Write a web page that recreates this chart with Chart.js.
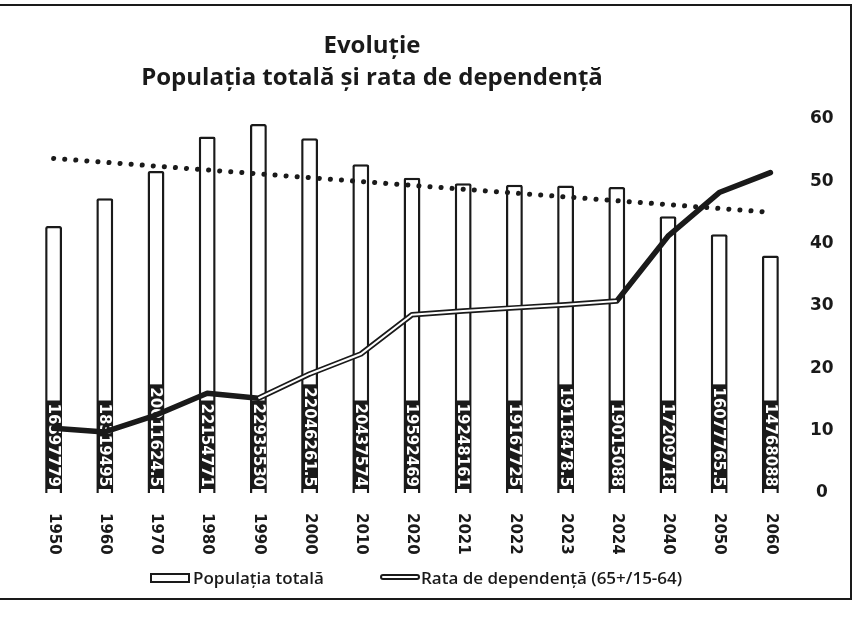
<!DOCTYPE html>
<html>
<head>
<meta charset="utf-8">
<script src="https://cdn.jsdelivr.net/npm/chart.js@4.4.1/dist/chart.umd.min.js"></script>
<style>
  html, body { margin: 0; padding: 0; background: #fff; }
  #wrap { position: relative; width: 859px; height: 619px; overflow: hidden; }
  #chart { position: absolute; left: 0; top: 0; }
  #frame {
    position: absolute; left: -3px; top: 4px; width: 853px; height: 592px;
    border: 2px solid #1a1a1a; border-left: none; pointer-events: none;
  }
  #title {
    position: absolute; left: 0; top: 28px; width: 744px; text-align: center;
    font: bold 24px "Open Sans", sans-serif; line-height: 32px; color: #1a1a1a;
  }
  .leg { position: absolute; top: 566px; font: 600 17px "Open Sans", sans-serif; color: #1a1a1a; white-space: nowrap; }
  .sw { position: absolute; box-sizing: border-box; }
  #sw-bar { left: 150px; top: 573px; width: 40px; height: 10px; border: 2px solid #1a1a1a; background: #fff; }
  #sw-line { left: 380px; top: 574px; width: 40px; height: 6px; border: 2px solid #1a1a1a; background: #fff; border-radius: 3px; }
</style>
</head>
<body>
<div id="wrap">
  <canvas id="chart" width="859" height="619"></canvas>
  <div id="frame"></div>
  <div id="title">Evoluție<br>Populația totală și rata de dependență</div>
  <div class="sw" id="sw-bar"></div>
  <div class="leg" style="left:193px">Populația totală</div>
  <div class="sw" id="sw-line"></div>
  <div class="leg" style="left:421px">Rata de dependență (65+/15-64)</div>
</div>
<script>
// =======================
// Data
// =======================

const years = ["1950", "1960", "1970", "1980", "1990", "2000", "2010", "2020",
               "2021", "2022", "2023", "2024", "2040", "2050", "2060"];

const population = [16597779, 18319495, 20011624.5, 22154771, 22935530, 22046261.5,
                    20437574, 19592469, 19248161, 19167725, 19118478.5, 19015088,
                    17209718, 16077765.5, 14768088];

const dependencyRatio = [10.4, 9.8, 12.5, 16.0, 15.2, 19.1, 22.3, 28.6,
                         29.2, 29.7, 30.2, 30.8, 41.2, 48.2, 51.4];

// dotted linear trend of the population, first and last point only
const populationTrend = [20800000, null, null, null, null, null, null, null,
                         null, null, null, null, null, null, 17450000];

const ratioTicks = [0, 10, 20, 30, 40, 50, 60];

const INK = "#1a1a1a";
const BAR_DATASET = 3;


// =======================
// Plugins
// =======================

// value labels inside the bars: white text on black, read top to bottom.
// drawn right after the bars so the lines pass over them
const barLabels = {
  id: "barLabels",
  afterDatasetDraw(chart, args) {
    if (args.index !== BAR_DATASET) return;
    const ctx = chart.ctx;
    ctx.save();
    ctx.font = "bold 15px 'DejaVu Sans'";
    ctx.textBaseline = "middle";
    ctx.textAlign = "right";
    args.meta.data.forEach((bar, i) => {
      const text = String(population[i]);
      const w = ctx.measureText(text).width;
      ctx.save();
      ctx.translate(bar.x, bar.base - 6);
      ctx.rotate(Math.PI / 2);
      ctx.fillStyle = INK;
      ctx.fillRect(-w - 3, -7, w + 5, 14);
      ctx.fillStyle = "#fff";
      ctx.fillText(text, 0, 1);
      ctx.restore();
    });
    ctx.restore();
  }
};

// category labels under the axis, rotated clockwise
const yearLabels = {
  id: "yearLabels",
  afterDraw(chart) {
    const x = chart.scales.x;
    const ctx = chart.ctx;
    const top = chart.chartArea.bottom + 20;
    ctx.save();
    ctx.font = "bold 15px 'DejaVu Sans'";
    ctx.fillStyle = INK;
    ctx.textBaseline = "middle";
    ctx.textAlign = "left";
    years.forEach((y, i) => {
      ctx.save();
      ctx.translate(x.getPixelForValue(i), top);
      ctx.rotate(Math.PI / 2);
      ctx.fillText(y, 0, 0);
      ctx.restore();
    });
    ctx.restore();
  }
};


// =======================
// Chart
// =======================

new Chart(document.getElementById("chart").getContext("2d"), {
  type: "bar",
  data: {
    labels: years,
    datasets: [
      {
        type: "line",
        label: "Rata de dependență (65+/15-64) core",
        data: dependencyRatio,
        yAxisID: "yRatio",
        borderWidth: 2,
        borderColor: "#fff",
        segment: {
          borderColor: c => (c.p0DataIndex >= 4 && c.p0DataIndex <= 10) ? "#fff" : "rgba(0,0,0,0)"
        },
        pointRadius: 0,
        tension: 0,
        order: 1
      },
      {
        type: "line",
        label: "Rata de dependență (65+/15-64)",
        data: dependencyRatio,
        yAxisID: "yRatio",
        borderWidth: 5.5,
        borderColor: INK,
        borderCapStyle: "round",
        borderJoinStyle: "round",
        pointRadius: 0,
        tension: 0,
        order: 2
      },
      {
        type: "line",
        label: "Trend",
        data: populationTrend,
        yAxisID: "yPop",
        spanGaps: true,
        borderWidth: 5,
        borderColor: INK,
        borderDash: [0.1, 11],
        borderCapStyle: "round",
        pointRadius: 0,
        order: 3
      },
      {
        label: "Populația totală",
        data: population,
        yAxisID: "yPop",
        backgroundColor: "#fff",
        borderColor: INK,
        borderWidth: 2.5,
        borderRadius: 2,
        borderSkipped: "bottom",
        categoryPercentage: 1,
        barPercentage: 0.33,
        order: 10
      }
    ]
  },
  plugins: [barLabels, yearLabels],
  options: {
    responsive: false,
    animation: false,
    layout: { padding: { left: 28, right: 13, top: 119, bottom: 126 } },
    plugins: {
      legend: { display: false },
      title: { display: false },
      tooltip: { enabled: false }
    },
    scales: {
      x: { display: false, offset: true },
      yPop: { display: false, position: "left", min: 0, max: 23250000 },
      yRatio: {
        position: "right",
        min: 0,
        max: 60,
        grid: { display: false, drawTicks: false },
        border: { display: false },
        afterBuildTicks: s => { s.ticks = ratioTicks.map(v => ({ value: v })); },
        afterFit: s => { s.width = 50; },
        ticks: {
          padding: 14,
          crossAlign: "center",
          color: INK,
          font: { family: "DejaVu Sans", weight: "bold", size: 17 }
        }
      }
    }
  }
});
</script>
</body>
</html>
